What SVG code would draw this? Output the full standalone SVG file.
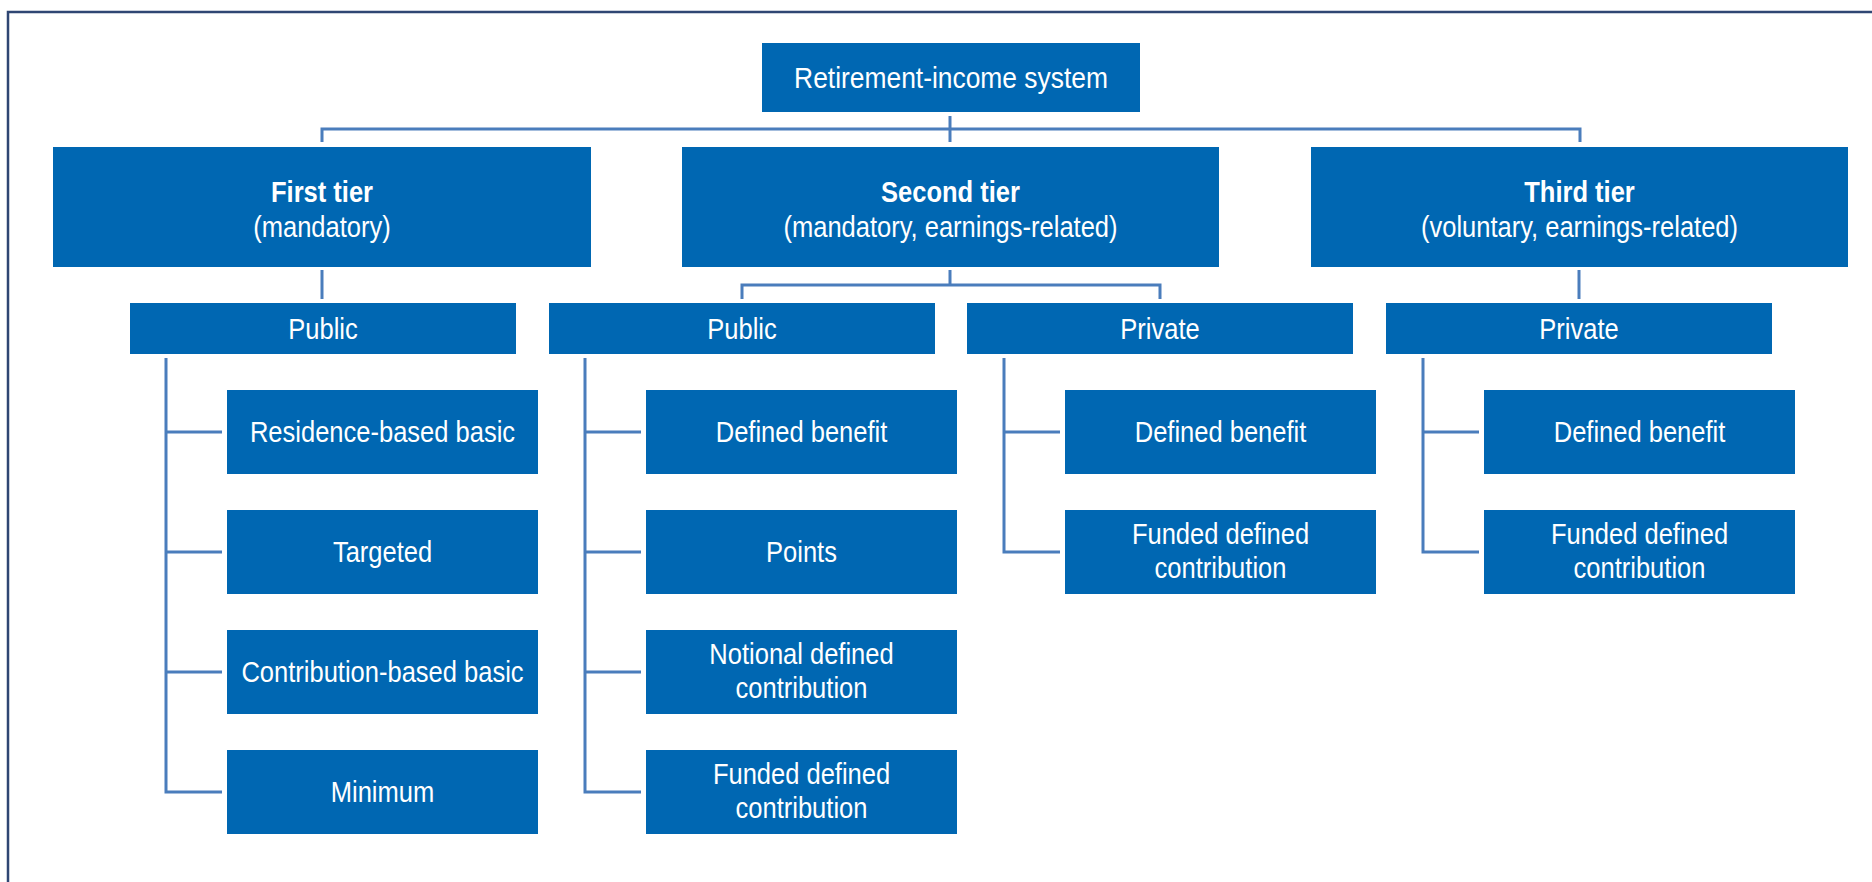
<svg xmlns="http://www.w3.org/2000/svg" width="1872" height="882" viewBox="0 0 1872 882">
<style>
.box{fill:#0067b2}
.t{fill:#ffffff;font-family:"Liberation Sans",Arial,sans-serif;font-size:29px;text-anchor:middle}
.b{font-weight:bold}
.con{fill:none;stroke:#4a7dbc;stroke-width:3}
</style>
<rect x="8" y="12" width="1900" height="900" fill="#ffffff" stroke="#2f4673" stroke-width="2.5"/>
<g id="connectors" class="con">
<path d="M322,142 V129 H1580 V142"/>
<path d="M950,116 V142"/>
<path d="M322,270 V299"/>
<path d="M950,270 V285"/>
<path d="M742,299 V285 H1160 V299"/>
<path d="M1579,270 V299"/>
<path d="M166,358 V792 H222 M166,432 H222 M166,552 H222 M166,672 H222"/>
<path d="M585,358 V792 H641 M585,432 H641 M585,552 H641 M585,672 H641"/>
<path d="M1004,358 V552 H1060 M1004,432 H1060"/>
<path d="M1423,358 V552 H1479 M1423,432 H1479"/>
</g>
<g id="root"><rect class="box" x="762" y="43" width="378" height="69"/><text class="t" transform="translate(951,88) scale(0.88,1)" style="font-size:30px">Retirement-income system</text></g>
<g id="tier1"><rect class="box" x="53" y="147" width="538" height="120"/><text class="t b" transform="translate(322,202) scale(0.88,1)">First tier</text><text class="t" transform="translate(322,237) scale(0.88,1)">(mandatory)</text></g>
<g id="tier2"><rect class="box" x="682" y="147" width="537" height="120"/><text class="t b" transform="translate(950.5,202) scale(0.88,1)">Second tier</text><text class="t" transform="translate(950.5,237) scale(0.88,1)">(mandatory, earnings-related)</text></g>
<g id="tier3"><rect class="box" x="1311" y="147" width="537" height="120"/><text class="t b" transform="translate(1579.5,202) scale(0.88,1)">Third tier</text><text class="t" transform="translate(1579.5,237) scale(0.88,1)">(voluntary, earnings-related)</text></g>
<g id="t1-public"><rect class="box" x="130" y="303" width="386" height="51"/><text class="t" transform="translate(323,339) scale(0.88,1)">Public</text></g>
<g id="t2-public"><rect class="box" x="549" y="303" width="386" height="51"/><text class="t" transform="translate(742,339) scale(0.88,1)">Public</text></g>
<g id="t2-private"><rect class="box" x="967" y="303" width="386" height="51"/><text class="t" transform="translate(1160,339) scale(0.88,1)">Private</text></g>
<g id="t3-private"><rect class="box" x="1386" y="303" width="386" height="51"/><text class="t" transform="translate(1579,339) scale(0.88,1)">Private</text></g>
<g id="t1-residence"><rect class="box" x="227" y="390" width="311" height="84"/><text class="t" transform="translate(382.5,442) scale(0.88,1)">Residence-based basic</text></g>
<g id="t1-targeted"><rect class="box" x="227" y="510" width="311" height="84"/><text class="t" transform="translate(382.5,562) scale(0.88,1)">Targeted</text></g>
<g id="t1-contribution"><rect class="box" x="227" y="630" width="311" height="84"/><text class="t" transform="translate(382.5,682) scale(0.88,1)">Contribution-based basic</text></g>
<g id="t1-minimum"><rect class="box" x="227" y="750" width="311" height="84"/><text class="t" transform="translate(382.5,802) scale(0.88,1)">Minimum</text></g>
<g id="t2pub-db"><rect class="box" x="646" y="390" width="311" height="84"/><text class="t" transform="translate(801.5,442) scale(0.88,1)">Defined benefit</text></g>
<g id="t2pub-points"><rect class="box" x="646" y="510" width="311" height="84"/><text class="t" transform="translate(801.5,562) scale(0.88,1)">Points</text></g>
<g id="t2pub-ndc"><rect class="box" x="646" y="630" width="311" height="84"/><text class="t" transform="translate(801.5,664) scale(0.88,1)">Notional defined</text><text class="t" transform="translate(801.5,698) scale(0.88,1)">contribution</text></g>
<g id="t2pub-fdc"><rect class="box" x="646" y="750" width="311" height="84"/><text class="t" transform="translate(801.5,784) scale(0.88,1)">Funded defined</text><text class="t" transform="translate(801.5,818) scale(0.88,1)">contribution</text></g>
<g id="t2priv-db"><rect class="box" x="1065" y="390" width="311" height="84"/><text class="t" transform="translate(1220.5,442) scale(0.88,1)">Defined benefit</text></g>
<g id="t2priv-fdc"><rect class="box" x="1065" y="510" width="311" height="84"/><text class="t" transform="translate(1220.5,544) scale(0.88,1)">Funded defined</text><text class="t" transform="translate(1220.5,578) scale(0.88,1)">contribution</text></g>
<g id="t3priv-db"><rect class="box" x="1484" y="390" width="311" height="84"/><text class="t" transform="translate(1639.5,442) scale(0.88,1)">Defined benefit</text></g>
<g id="t3priv-fdc"><rect class="box" x="1484" y="510" width="311" height="84"/><text class="t" transform="translate(1639.5,544) scale(0.88,1)">Funded defined</text><text class="t" transform="translate(1639.5,578) scale(0.88,1)">contribution</text></g>
</svg>
